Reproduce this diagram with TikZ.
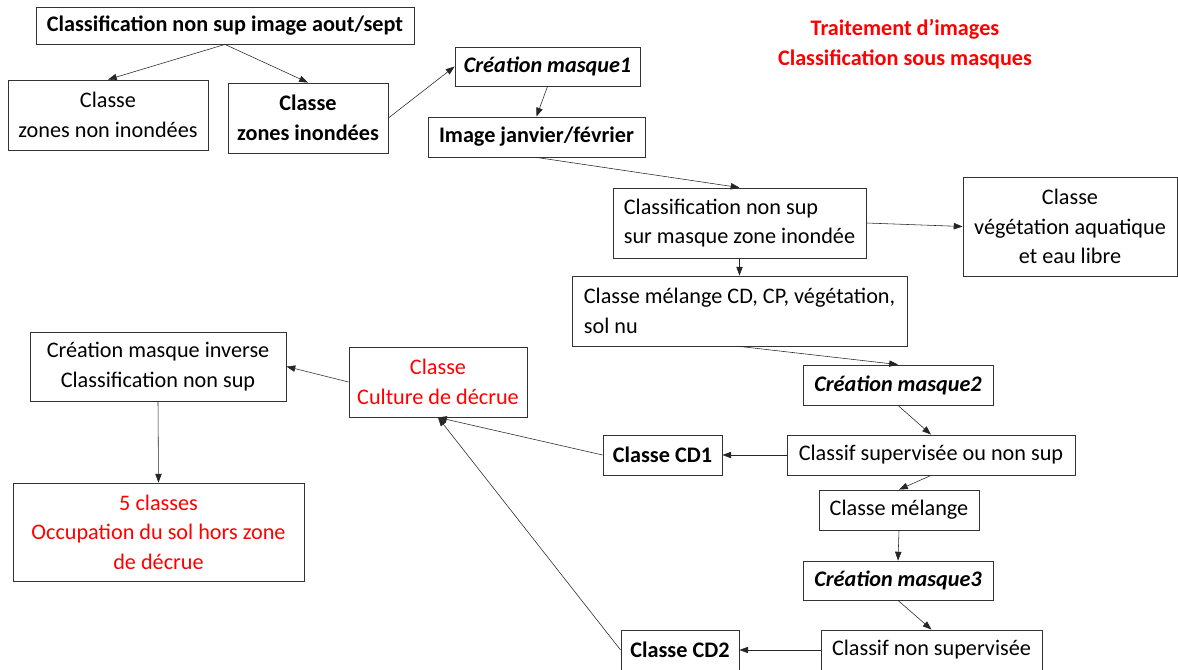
\documentclass[tikz,border=0pt]{standalone}
\usepackage{fontspec}
\setmainfont{Carlito}
\usetikzlibrary{arrows.meta}
\begin{document}
\begin{tikzpicture}[x=0.025cm,y=-0.025cm,
  font=\fontsize{15.8}{21}\selectfont,
  box/.style={draw=black!80,line width=0.6pt,inner sep=0pt,align=center},
  lbox/.style={box,align=left},
  arr/.style={-{Triangle[length=2.2mm,width=1.6mm]},line width=0.4pt,black!85},
  scale=1]
\useasboundingbox (0,0) rectangle (1178,670);

\node[box,minimum width=9.45cm,minimum height=0.925cm,font=\fontsize{15.8}{21}\selectfont\bfseries] (aout) at (225,25.5) {Classification non sup image aout/sept};
\node[box,minimum width=5cm,minimum height=1.75cm] (noninond) at (108,115) {Classe\\zones non inondées};
\node[box,minimum width=4cm,minimum height=1.75cm,font=\fontsize{15.8}{21}\selectfont\bfseries] (inond) at (308,118) {Classe\\zones inondées};
\node[box,minimum width=4.625cm,minimum height=0.975cm,font=\fontsize{15.8}{21}\selectfont\bfseries\itshape] (masque1) at (547.5,66.5) {Création masque1};
\node[box,minimum width=5.425cm,minimum height=1cm,font=\fontsize{15.8}{21}\selectfont\bfseries] (janv) at (536.5,137) {Image janvier/février};
\node[lbox,minimum width=6.325cm,minimum height=1.75cm] (nonsup) at (739.5,223) {Classification non sup\\sur masque zone inondée};
\node[box,minimum width=5.35cm,minimum height=2.475cm] (vege) at (1070,226.5) {Classe\\végétation aquatique\\et eau libre};
\node[lbox,minimum width=8.375cm,minimum height=1.75cm] (melcd) at (739.5,311) {Classe mélange CD, CP, végétation,\\sol nu};
\node[box,minimum width=4.75cm,minimum height=1cm,font=\fontsize{15.8}{21}\selectfont\bfseries\itshape] (masque2) at (898,385) {Création masque2};
\node[box,minimum width=7.2cm,minimum height=1cm] (classifsup) at (931,455) {Classif supervisée ou non sup};
\node[box,minimum width=2.975cm,minimum height=1cm,font=\fontsize{15.8}{21}\selectfont\bfseries] (cd1) at (662.5,455) {Classe CD1};
\node[box,minimum width=4cm,minimum height=1cm] (melange) at (899,510) {Classe mélange};
\node[box,minimum width=4.75cm,minimum height=0.975cm,font=\fontsize{15.8}{21}\selectfont\bfseries\itshape] (masque3) at (898,580.5) {Création masque3};
\node[box,minimum width=5.525cm,minimum height=1cm] (classifnonsup) at (931.5,650) {Classif non supervisée};
\node[box,minimum width=2.95cm,minimum height=1cm,font=\fontsize{15.8}{21}\selectfont\bfseries] (cd2) at (680,650) {Classe CD2};
\node[box,minimum width=4.45cm,minimum height=1.75cm,text=red] (decrue) at (438,382) {Classe\\Culture de décrue};
\node[box,minimum width=6.4cm,minimum height=1.725cm] (inverse) at (158,366.5) {Création masque inverse\\Classification non sup};
\node[box,minimum width=7.275cm,minimum height=2.45cm,text=red] (hors) at (158.5,532) {5 classes\\Occupation du sol hors zone\\de décrue};
\node[align=center,text=red,font=\fontsize{15.8}{21}\selectfont\bfseries] (titre) at (905,44) {Traitement d’images\\Classification sous masques};

\draw[arr] (aout.south) -- (noninond.north);
\draw[arr] (aout.south) -- (inond.north);
\draw[arr] (inond.east) -- (masque1.west);
\draw[arr] (masque1.south) -- (janv.north);
\draw[arr] (janv.south) -- (nonsup.north);
\draw[arr] (nonsup.east) -- (vege.west);
\draw[arr] (nonsup.south) -- (melcd.north);
\draw[arr] (melcd.south) -- (masque2.north);
\draw[arr] (masque2.south) -- (classifsup.north);
\draw[arr] (classifsup.west) -- (cd1.east);
\draw[arr] (classifsup.south) -- (melange.north);
\draw[arr] (melange.south) -- (masque3.north);
\draw[arr] (masque3.south) -- (classifnonsup.north);
\draw[arr] (classifnonsup.west) -- (cd2.east);
\draw[arr] (cd1.west) -- (decrue.south);
\draw[arr] (cd2.west) -- (decrue.south);
\draw[arr] (decrue.west) -- (inverse.east);
\draw[arr] (inverse.south) -- (hors.north);
\end{tikzpicture}
\end{document}
